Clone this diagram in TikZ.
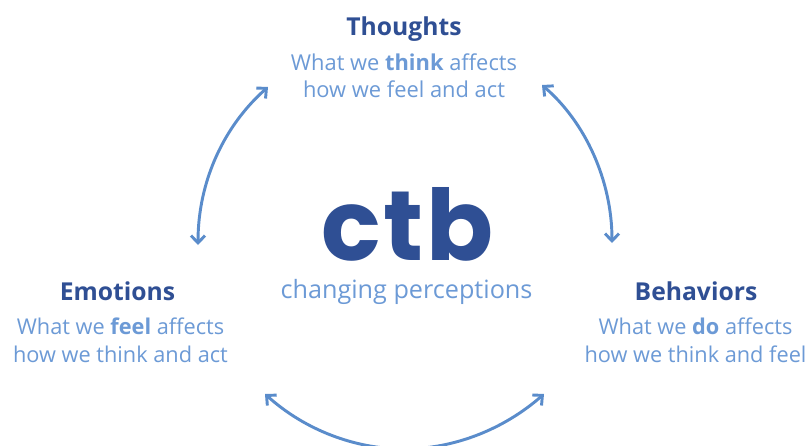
\documentclass[tikz,border=0pt]{standalone}
\usepackage{fontspec}
\setmainfont{Open Sans}
\newfontfamily\logofont[LetterSpace=3]{Poppins}
\usetikzlibrary{arrows.meta}
\definecolor{darkblue}{HTML}{2F4F94}
\definecolor{lightblue}{HTML}{6C9AD6}
\definecolor{arrowblue}{HTML}{5A8CCB}
\tikzset{
  head/.style={text=darkblue,font=\fontsize{18.5}{20}\selectfont\bfseries,inner sep=0pt,anchor=center},
  body/.style={text=lightblue,font=\fontsize{16.3}{21}\selectfont,inner sep=0pt,align=center,anchor=center},
  link/.style={draw=arrowblue,line width=2.2pt,{Straight Barb[length=5.5pt,width=10.5pt,line width=2.2pt]}-{Straight Barb[length=5.5pt,width=10.5pt,line width=2.2pt]}},
}
\newcommand{\hl}[1]{\textbf{#1}}
\begin{document}
\begin{tikzpicture}[x=0.75pt,y=-0.75pt]
\path[use as bounding box,fill=white] (0,0) rectangle (808,446);
\clip (0,0) rectangle (808,446);
\node[head] (thoughtsHead) at (404,29) {Thoughts};
\node[body,font=\fontsize{16.4}{20}\selectfont] (thoughtsText) at (404,76) {What we \hl{think} affects\\how we feel and act};
\node[head] (emotionsHead) at (117.5,291) {Emotions};
\node[body] (emotionsText) at (120.5,340) {What we \hl{feel} affects\\how we think and act};
\node[head] (behaviorsHead) at (696,291) {Behaviors};
\node[body] (behaviorsText) at (695.5,340) {What we \hl{do} affects\\how we think and feel};
\node[text=darkblue,inner sep=0pt,font=\logofont\fontsize{74}{76}\selectfont\bfseries] (logo) at (407.5,224) {ctb};
\node[text=lightblue,inner sep=0pt,font=\fontsize{18.9}{22}\selectfont] (tagline) at (406.5,292) {changing perceptions};
\coordinate (a1) at (198,245);
\coordinate (a2) at (268,87);
\coordinate (b1) at (542,85);
\coordinate (b2) at (612,243);
\coordinate (c1) at (265,394);
\coordinate (c2) at (544,394);
\draw[link] (a1) .. controls (198,180) and (225,125) .. (a2);
\draw[link] (b1) .. controls (585,122) and (612,180) .. (b2);
\draw[link] (c1) .. controls (305,430) and (355,449) .. (404,449) .. controls (453,449) and (503,430) .. (c2);
\end{tikzpicture}
\end{document}
